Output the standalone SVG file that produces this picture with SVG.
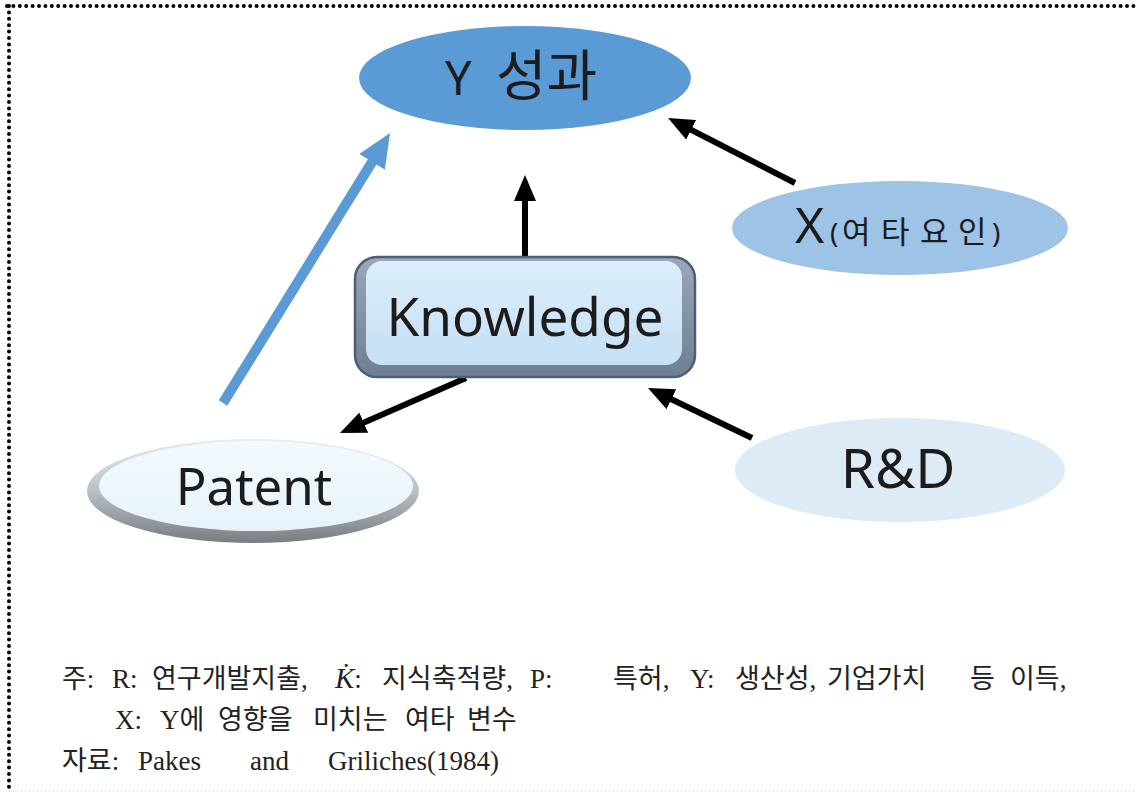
<svg xmlns="http://www.w3.org/2000/svg" width="1136" height="793" viewBox="0 0 1136 793">
<style>
.lbl{font-family:"Noto Sans","Noto Sans CJK KR",sans-serif;fill:#1c1c1c}
.mid{text-anchor:middle}
.note{font-family:"Liberation Serif","Noto Sans CJK KR",serif;font-size:27px;fill:#222}
.blk{stroke:#000;stroke-width:6;fill:none}
</style>
<defs>
<marker id="ah" markerUnits="userSpaceOnUse" viewBox="0 0 26 22" markerWidth="26" markerHeight="22" refX="11" refY="11" orient="auto">
<path d="M0,0 L26,11 L0,22 z" fill="#000"/>
</marker>
<marker id="bh" markerUnits="userSpaceOnUse" viewBox="0 0 34 30" markerWidth="34" markerHeight="30" refX="14" refY="15" orient="auto">
<path d="M0,0 L34,15 L0,30 z" fill="#5B9BD5"/>
</marker>
<linearGradient id="kbody" x1="0" y1="0" x2="0" y2="1">
<stop offset="0" stop-color="#DCEEFB"/><stop offset="1" stop-color="#C6DFF4"/>
</linearGradient>
<linearGradient id="kedge" x1="0" y1="0" x2="0" y2="1">
<stop offset="0" stop-color="#9AA8B8"/><stop offset="1" stop-color="#6E7F93"/>
</linearGradient>
<linearGradient id="pring" x1="0" y1="0" x2="0" y2="1">
<stop offset="0" stop-color="#E4EEF4"/><stop offset="0.5" stop-color="#B8C0C6"/><stop offset="1" stop-color="#777D83"/>
</linearGradient>
<linearGradient id="pbody" x1="0" y1="0" x2="0" y2="1">
<stop offset="0" stop-color="#F3FAFE"/><stop offset="1" stop-color="#E6F2FA"/>
</linearGradient>
</defs>

<g id="frame">
<line x1="7" y1="6" x2="1136" y2="6" stroke="#000" stroke-width="4" stroke-linecap="round" stroke-dasharray="0 6.4"/>
<line x1="9" y1="6" x2="9" y2="793" stroke="#000" stroke-width="4" stroke-linecap="round" stroke-dasharray="0 6.4"/>
<line x1="9" y1="791" x2="1136" y2="791" stroke="#BBB" stroke-width="1" stroke-dasharray="1 3"/>
</g>

<g id="connectors">
<line x1="223" y1="403" x2="379.5" y2="150" stroke="#5B9BD5" stroke-width="10" marker-end="url(#bh)"/>
<line class="blk" x1="525" y1="256" x2="525" y2="190" marker-end="url(#ah)"/>
<line class="blk" x1="795" y1="183" x2="681.4" y2="124.8" marker-end="url(#ah)"/>
<line class="blk" x1="752" y1="438" x2="661.5" y2="394.5" marker-end="url(#ah)"/>
<line class="blk" x1="466" y1="378" x2="353.7" y2="427" marker-end="url(#ah)"/>
</g>

<g id="node-y">
<ellipse cx="525" cy="78" rx="166" ry="52" fill="#5B9BD5"/>
<text class="lbl" y="95" font-size="47"><tspan x="445">Y</tspan><tspan x="496" font-size="55">성과</tspan></text>
</g>

<g id="node-x">
<ellipse cx="900" cy="228" rx="168" ry="47" fill="#9DC3E6"/>
<text class="lbl" y="243"><tspan x="795" font-size="50">X</tspan><tspan x="830" font-size="28">(</tspan><tspan x="842" font-size="31">여</tspan><tspan x="881" font-size="31">타</tspan><tspan x="920" font-size="31">요</tspan><tspan x="958" font-size="31">인</tspan><tspan x="992" font-size="28">)</tspan></text>
</g>

<g id="node-knowledge">
<rect x="355" y="257" width="340" height="120" rx="22" fill="url(#kedge)" stroke="#4F5F73" stroke-width="2.5"/>
<rect x="366" y="261" width="316" height="104" rx="16" fill="url(#kbody)"/>
<text class="lbl mid" x="525" y="336" font-size="53">Knowledge</text>
</g>

<g id="node-patent">
<ellipse cx="253" cy="491" rx="166" ry="52" fill="url(#pring)"/>
<ellipse cx="256" cy="486" rx="157" ry="45" fill="url(#pbody)"/>
<text class="lbl mid" x="254" y="505" font-size="51">Patent</text>
</g>

<g id="node-rd">
<ellipse cx="900" cy="470" rx="165" ry="52" fill="#DDEBF7"/>
<text class="lbl mid" x="898" y="488" font-size="55">R&amp;D</text>
</g>

<g id="notes">
<text class="note" x="62" y="688">주:</text>
<text class="note" x="112" y="688">R:</text>
<text class="note" x="152" y="688">연구개발지출,</text>
<text class="note" x="335" y="688"><tspan font-style="italic" font-size="29">K̇</tspan>:</text>
<text class="note" x="382" y="688">지식축적량,</text>
<text class="note" x="530" y="688">P:</text>
<text class="note" x="613" y="688">특허,</text>
<text class="note" x="690" y="688">Y:</text>
<text class="note" x="735" y="688">생산성,</text>
<text class="note" x="827" y="688">기업가치</text>
<text class="note" x="970" y="688">등</text>
<text class="note" x="1010" y="688">이득,</text>

<text class="note" x="115" y="729">X:</text>
<text class="note" x="160" y="729">Y에</text>
<text class="note" x="218" y="729">영향을</text>
<text class="note" x="313" y="729">미치는</text>
<text class="note" x="405" y="729">여타</text>
<text class="note" x="467" y="729">변수</text>

<text class="note" x="62" y="770">자료:</text>
<text class="note" x="138" y="770" font-size="29">Pakes</text>
<text class="note" x="250" y="770" font-size="29">and</text>
<text class="note" x="328" y="770">Griliches(1984)</text>
</g>
</svg>
